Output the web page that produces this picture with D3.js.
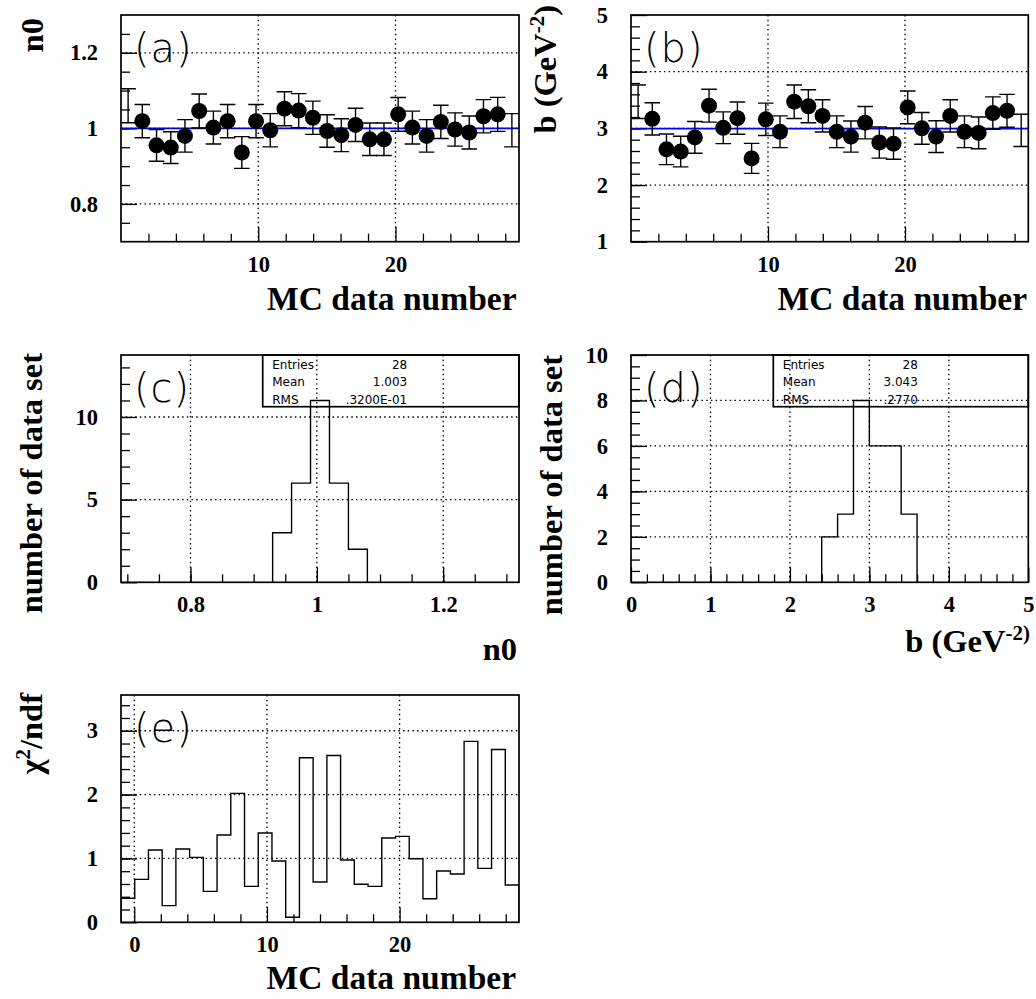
<!DOCTYPE html>
<html>
<head>
<meta charset="utf-8">
<script src="https://cdn.jsdelivr.net/npm/d3@7"></script>
<style>
  html, body { margin: 0; padding: 0; background: #fff; }
  svg { display: block; }
  .serif { font-family: "Liberation Serif", "Times New Roman", serif; font-weight: bold; fill: #000; }
  .stat { font-family: "DejaVu Sans", sans-serif; font-size: 12px; fill: #000; }
  .tag { font-family: "DejaVu Sans", sans-serif; font-weight: 200; font-size: 40px; fill: #000; letter-spacing: 1px; }
</style>
</head>
<body>
<script>
// ---- MC data set numbers ----
const mcNumbers = [1, 2, 3, 4, 5, 6, 7, 8, 9, 10, 11, 12, 13, 14, 15, 16, 17, 18, 19, 20, 21, 22, 23, 24, 25, 26, 27, 28];

// ---- fitted n0 per data set, with errors ----
const n0Values = [1.060, 1.019, 0.955, 0.949, 0.980, 1.046, 1.002, 1.019, 0.936, 1.019, 0.995, 1.052, 1.047, 1.028,
                  0.993, 0.982, 1.009, 0.971, 0.971, 1.037, 1.002, 0.980, 1.017, 0.997, 0.989, 1.032, 1.037, 0.995];
const n0Errors = [0.045, 0.044, 0.042, 0.042, 0.043, 0.045, 0.0435, 0.044, 0.042, 0.044, 0.044, 0.045, 0.045, 0.044,
                  0.043, 0.0435, 0.044, 0.043, 0.043, 0.0445, 0.0435, 0.043, 0.044, 0.044, 0.0435, 0.044, 0.045, 0.044];
const n0Fit = 1.0;

// ---- fitted b (GeV^-2) per data set, with errors ----
const bValues = [3.47, 3.168, 2.63, 2.59, 2.84, 3.40, 3.01, 3.18, 2.47, 3.16, 2.94, 3.47, 3.39, 3.22,
                 2.94, 2.855, 3.10, 2.75, 2.73, 3.37, 3.00, 2.855, 3.22, 2.94, 2.92, 3.27, 3.31, 2.965];
const bErrors = [0.295, 0.285, 0.27, 0.27, 0.28, 0.29, 0.28, 0.285, 0.265, 0.285, 0.28, 0.295, 0.29, 0.285,
                 0.28, 0.275, 0.285, 0.275, 0.275, 0.29, 0.28, 0.28, 0.285, 0.28, 0.28, 0.285, 0.29, 0.285];
const bFit = 2.995;

// ---- distribution of n0 ----
const n0HistEdges = [0.93, 0.96, 0.99, 1.02, 1.05, 1.08];
const n0HistCounts = [3, 6, 11, 6, 2];
const n0Stats = [["Entries", "28"], ["Mean", "1.003"], ["RMS", ".3200E-01"]];

// ---- distribution of b ----
const bHistEdges = [2.4, 2.6, 2.8, 3.0, 3.2, 3.4, 3.6];
const bHistCounts = [2, 3, 8, 6, 6, 3];
const bStats = [["Entries", "28"], ["Mean", "3.043"], ["RMS", ".2770"]];

// ---- chi2/ndf per bin ----
const chi2PerNdf = [0.376, 0.673, 1.132, 0.261, 1.148, 1.017, 0.485, 1.367, 2.019, 0.563, 1.398, 0.960, 0.078, 2.577,
                    0.631, 2.613, 0.975, 0.595, 0.563, 1.320, 1.346, 0.996, 0.370, 0.803, 0.756, 2.833, 0.845, 2.707, 0.584];

// ---- tick labels ----
const mcTicks = [10, 20];
const mcTicksE = [0, 10, 20];
const n0Ticks = [0.8, 1, 1.2];
const bTicks = [1, 2, 3, 4, 5];
const n0HistTicksX = [0.8, 1, 1.2];
const n0HistTicksY = [0, 5, 10];
const bHistTicksX = [0, 1, 2, 3, 4, 5];
const bHistTicksY = [0, 2, 4, 6, 8, 10];
const chi2Ticks = [0, 1, 2, 3];

const SERIF = '"Liberation Serif", "Times New Roman", serif';
const svg = d3.select("body").append("svg").attr("width", 1036).attr("height", 999);
const defs = svg.append("defs");

function panel(o) {
  const g = svg.append("g");
  const x = d3.scaleLinear().domain(o.xDomain).range([o.left, o.left + o.w]);
  const y = d3.scaleLinear().domain(o.yDomain).range([o.top + o.h, o.top]);
  defs.append("clipPath").attr("id", "clip-" + o.id)
    .append("rect").attr("x", o.left).attr("y", o.top).attr("width", o.w).attr("height", o.h);

  // dotted grid at major ticks
  const grid = g.append("g").attr("stroke", "#000").attr("stroke-width", 1.3).attr("stroke-dasharray", "1.5,3.2");
  grid.selectAll("line.gx").data(o.xGrid).join("line").attr("class", "gx")
    .attr("x1", d => x(d)).attr("x2", d => x(d)).attr("y1", o.top).attr("y2", o.top + o.h);
  grid.selectAll("line.gy").data(o.yGrid).join("line").attr("class", "gy")
    .attr("x1", o.left).attr("x2", o.left + o.w).attr("y1", d => y(d)).attr("y2", d => y(d));

  // bottom axis: minor + major ticks pointing inward
  const bx = g.append("g").attr("transform", `translate(0,${o.top + o.h})`);
  bx.append("g").call(d3.axisBottom(x).tickValues(o.xMinor).tickSize(-8).tickFormat(""));
  bx.append("g").call(d3.axisBottom(x).tickValues(o.xMajor).tickSize(-15).tickPadding(14).tickFormat(d3.format("")));
  // left axis
  const by = g.append("g").attr("transform", `translate(${o.left},0)`);
  by.append("g").call(d3.axisLeft(y).tickValues(o.yMinor).tickSize(-9).tickFormat(""));
  by.append("g").call(d3.axisLeft(y).tickValues(o.yMajor).tickSize(-16).tickPadding(23).tickFormat(d3.format("")));
  g.selectAll(".domain").remove();
  g.selectAll(".tick line").attr("stroke", "#000").attr("stroke-width", 1.3);
  g.selectAll(".tick text")
    .style("font-family", SERIF).style("font-weight", "bold").style("font-size", "22.5px").style("fill", "#000");

  const plot = g.append("g").attr("clip-path", `url(#clip-${o.id})`);
  const top = svg.append("g");
  return { g, plot, top, x, y, o };
}

function frame(p) {
  const o = p.o;
  p.top.append("rect").attr("x", o.left).attr("y", o.top).attr("width", o.w).attr("height", o.h)
    .attr("fill", "none").attr("stroke", "#000").attr("stroke-width", 1.7);
}

function tag(p, text) {
  p.top.append("text").attr("class", "tag").attr("x", p.o.left + 13).attr("y", p.o.top + 47).text(text);
}

function stepPath(edges, counts, x, y) {
  const pts = [[edges[0], 0]];
  counts.forEach((c, i) => { pts.push([edges[i], c]); pts.push([edges[i + 1], c]); });
  pts.push([edges[edges.length - 1], 0]);
  return d3.line().x(d => x(d[0])).y(d => y(d[1]))(pts);
}

function scatterPanel(p, values, errors, fit) {
  const band = d3.scaleBand().domain(mcNumbers).range([p.x(0), p.x(29)]).paddingInner(0).paddingOuter(0);
  const cx = d => band(d) + band.bandwidth() / 2;
  const cap = 7.8;
  // fitted constant
  p.plot.append("line").attr("x1", p.x(0)).attr("x2", p.x(29)).attr("y1", p.y(fit)).attr("y2", p.y(fit))
    .attr("stroke", "#0000ee").attr("stroke-width", 1.6);
  const pts = p.plot.append("g").selectAll("g").data(mcNumbers).join("g");
  pts.append("line").attr("x1", d => cx(d)).attr("x2", d => cx(d))
    .attr("y1", (d, i) => p.y(values[i] + errors[i])).attr("y2", (d, i) => p.y(values[i] - errors[i]))
    .attr("stroke", "#000").attr("stroke-width", 1.4);
  pts.append("line").attr("x1", d => cx(d) - cap).attr("x2", d => cx(d) + cap)
    .attr("y1", (d, i) => p.y(values[i] + errors[i])).attr("y2", (d, i) => p.y(values[i] + errors[i]))
    .attr("stroke", "#000").attr("stroke-width", 1.4);
  pts.append("line").attr("x1", d => cx(d) - cap).attr("x2", d => cx(d) + cap)
    .attr("y1", (d, i) => p.y(values[i] - errors[i])).attr("y2", (d, i) => p.y(values[i] - errors[i]))
    .attr("stroke", "#000").attr("stroke-width", 1.4);
  // markers are shown for the inner data sets only
  pts.filter((d, i) => i > 0 && i < mcNumbers.length - 1)
    .append("circle").attr("cx", d => cx(d)).attr("cy", d => p.y(values[mcNumbers.indexOf(d)])).attr("r", 8)
    .attr("fill", "#000");
}

function statBox(p, rows, boxLeft) {
  const o = p.o;
  const b = p.top.append("g");
  b.append("rect").attr("x", boxLeft).attr("y", o.top).attr("width", o.left + o.w - boxLeft).attr("height", 51.7)
    .attr("fill", "none").attr("stroke", "#000").attr("stroke-width", 1.7);
  const baselines = [14.3, 31.2, 48.5];
  rows.forEach((r, i) => {
    b.append("text").attr("class", "stat").attr("x", boxLeft + 9.5).attr("y", o.top + baselines[i]).text(r[0]);
    b.append("text").attr("class", "stat").attr("x", boxLeft + 144.5).attr("y", o.top + baselines[i])
      .attr("text-anchor", "end").text(r[1]);
  });
}

function xTitle(x, y, size, build) {
  const t = svg.append("text").attr("class", "serif").attr("x", x).attr("y", y).attr("text-anchor", "end")
    .style("font-size", size + "px");
  build(t);
}
function yTitle(x, y, build) {
  const t = svg.append("text").attr("class", "serif").attr("transform", `translate(${x},${y}) rotate(-90)`)
    .attr("text-anchor", "end").style("font-size", "32.5px");
  build(t);
}
const sup = (t, s, size) => t.append("tspan").attr("baseline-shift", "super").style("font-size", size).text(s);

// ---------- (a) n0 vs MC data number ----------
const pa = panel({
  id: "a", left: 121, top: 15, w: 398, h: 226.7, xDomain: [0, 29], yDomain: [0.7, 1.3],
  xGrid: [10, 20], yGrid: [0.8, 1.0, 1.2],
  xMajor: mcTicks, xMinor: d3.range(2, 29, 2).filter(v => v % 10 !== 0),
  yMajor: n0Ticks, yMinor: d3.range(0.75, 1.3, 0.05)
});
scatterPanel(pa, n0Values, n0Errors, n0Fit);
frame(pa); tag(pa, "(a)");

// ---------- (b) b vs MC data number ----------
const pb = panel({
  id: "b", left: 631, top: 15, w: 397.3, h: 226.7, xDomain: [0, 29], yDomain: [1, 5],
  xGrid: [10, 20], yGrid: [2, 3, 4],
  xMajor: mcTicks, xMinor: d3.range(2, 29, 2).filter(v => v % 10 !== 0),
  yMajor: bTicks, yMinor: d3.range(1.2, 5, 0.2)
});
scatterPanel(pb, bValues, bErrors, bFit);
frame(pb); tag(pb, "(b)");

// ---------- (c) n0 distribution ----------
const pc = panel({
  id: "c", left: 121, top: 355, w: 398, h: 227.3, xDomain: [0.69, 1.32], yDomain: [0, 13.75],
  xGrid: [0.8, 1.0, 1.2], yGrid: [5, 10],
  xMajor: n0HistTicksX, xMinor: d3.range(0.7, 1.31, 0.05),
  yMajor: n0HistTicksY, yMinor: d3.range(1, 14, 1)
});
pc.plot.append("path").attr("d", stepPath(n0HistEdges, n0HistCounts, pc.x, pc.y))
  .attr("fill", "none").attr("stroke", "#000").attr("stroke-width", 1.4);
statBox(pc, n0Stats, 262.7);
frame(pc); tag(pc, "(c)");

// ---------- (d) b distribution ----------
const pd = panel({
  id: "d", left: 631, top: 355, w: 397.3, h: 227.3, xDomain: [0, 5], yDomain: [0, 10],
  xGrid: [1, 2, 3, 4], yGrid: [2, 4, 6, 8],
  xMajor: bHistTicksX, xMinor: d3.range(0.2, 5, 0.2),
  yMajor: bHistTicksY, yMinor: d3.range(0.5, 10, 0.5)
});
pd.plot.append("path").attr("d", stepPath(bHistEdges, bHistCounts, pd.x, pd.y))
  .attr("fill", "none").attr("stroke", "#000").attr("stroke-width", 1.4);
statBox(pd, bStats, 773.3);
frame(pd); tag(pd, "(d)");

// ---------- (e) chi2/ndf vs MC data number ----------
const pe = panel({
  id: "e", left: 121, top: 695, w: 398, h: 227.3, xDomain: [-1, 29], yDomain: [0, 3.56],
  xGrid: [0, 10, 20], yGrid: [1, 2, 3],
  xMajor: mcTicksE, xMinor: d3.range(2, 29, 2).filter(v => v % 10 !== 0),
  yMajor: chi2Ticks, yMinor: d3.range(0.2, 3.5, 0.2)
});
const chiBand = d3.scaleBand().domain(d3.range(chi2PerNdf.length)).range([-1, 29]);
const chiEdges = chi2PerNdf.map((v, i) => chiBand(i)).concat([29]);
pe.plot.append("path").attr("d", stepPath(chiEdges, chi2PerNdf, pe.x, pe.y))
  .attr("fill", "none").attr("stroke", "#000").attr("stroke-width", 1.4);
frame(pe); tag(pe, "(e)");

// ---------- axis titles ----------
xTitle(516.5, 309.5, 33.5, t => t.text("MC data number"));
xTitle(1027, 309.5, 33.5, t => t.text("MC data number"));
xTitle(517, 660, 32.5, t => t.text("n0"));
xTitle(1030, 652, 32.5, t => { t.append("tspan").text("b (GeV"); sup(t, "-2)", "21px"); });
xTitle(516, 989, 33.5, t => t.text("MC data number"));

yTitle(43, 18, t => t.text("n0"));
yTitle(556, 5, t => { t.append("tspan").text("b (GeV"); sup(t, "-2", "21px"); t.append("tspan").text(")"); });
yTitle(42, 353, t => t.text("number of data set"));
yTitle(561.5, 355, t => t.text("number of data set"));
yTitle(42, 693, t => { t.append("tspan").text("χ"); sup(t, "2", "21px"); t.append("tspan").text("/ndf"); });
</script>
</body>
</html>
